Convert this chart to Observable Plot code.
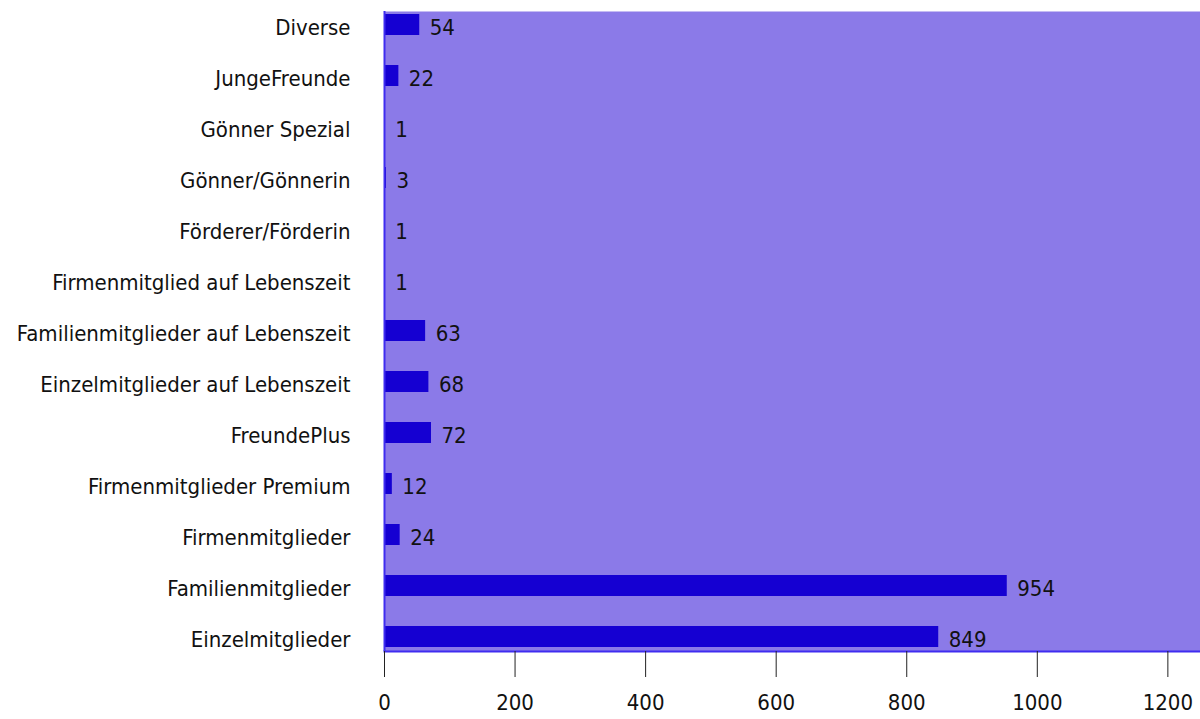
<!DOCTYPE html>
<html><head><meta charset="utf-8">
<script src="https://cdn.jsdelivr.net/npm/d3@7"></script>
<script src="https://cdn.jsdelivr.net/npm/@observablehq/plot@0.6"></script>
<style>
body{margin:0;background:#fff;}
#chart svg text{font-stretch:condensed;}
</style></head><body><div id="chart"></div>
<script>
const categories = ["Diverse","JungeFreunde","Gönner Spezial","Gönner/Gönnerin","Förderer/Förderin","Firmenmitglied auf Lebenszeit","Familienmitglieder auf Lebenszeit","Einzelmitglieder auf Lebenszeit","FreundePlus","Firmenmitglieder Premium","Firmenmitglieder","Familienmitglieder","Einzelmitglieder"];
const counts = [54,22,1,3,1,1,63,68,72,12,24,954,849];
const xTicks = [0,200,400,600,800,1000,1200];
const data = categories.map((c,i)=>({category:c, count:counts[i]}));
const font = '"DejaVu Sans Condensed","DejaVu Sans",sans-serif';
const fs = 22;
const chart = Plot.plot({
  width:1200, height:719, marginLeft:384, marginRight:0, marginTop:11, marginBottom:68,
  style:{fontFamily:font, fontSize:fs+"px", color:"#111", background:"#fff"},
  x:{domain:[0,1250], ticks:xTicks, tickFormat:d=>String(d), label:null},
  y:{domain:categories, paddingInner:0.58, paddingOuter:0, label:null},
  marks:[
    Plot.frame({fill:"#8b7ae8"}),
    Plot.barX(data,{x:"count", y:"category", fill:"#1500d2"}),
    Plot.ruleX([0],{stroke:"#3f2cf0", strokeWidth:2}),
    Plot.frame({anchor:"bottom", stroke:"#3f2cf0", strokeWidth:2}),
    Plot.text(data,{x:"count", y:"category", text:d=>String(d.count), textAnchor:"start", dx:10, dy:3, fontSize:fs, fill:"#111"}),
    Plot.axisX({ticks:xTicks, tickFormat:d=>String(d), tickSize:26, tickPadding:17, fontSize:fs, stroke:"#222", label:null}),
    Plot.axisY({tickSize:0, tickPadding:34, fontSize:fs, dy:3, label:null})
  ]
});
document.getElementById("chart").appendChild(chart);
</script></body></html>
